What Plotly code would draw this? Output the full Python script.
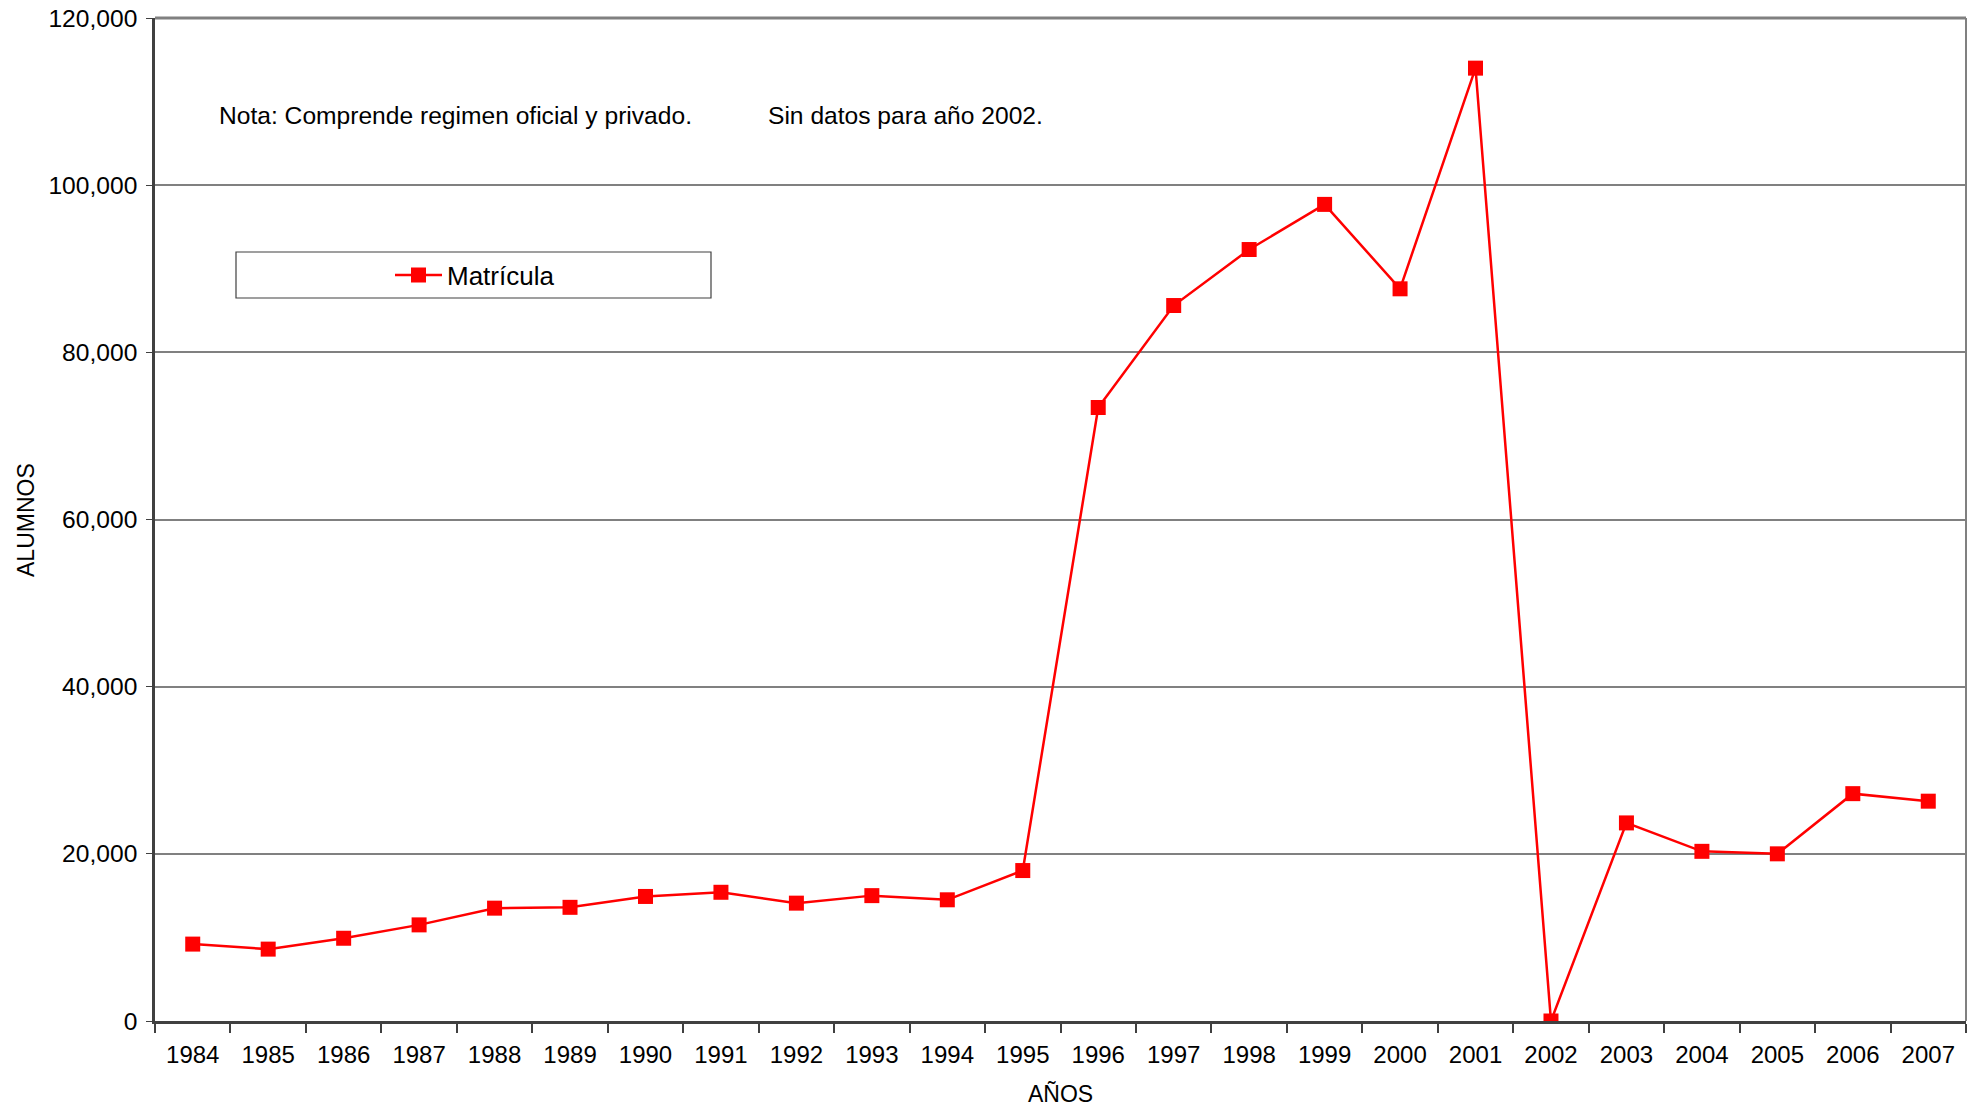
import plotly.graph_objects as go

years = [str(y) for y in range(1984, 2008)]
matricula = [9200, 8600, 9900, 11500, 13500, 13600, 14900, 15400, 14100, 15000,
             14500, 18000, 73400, 85600, 92300, 97700, 87600, 114000, 0, 23700,
             20300, 20000, 27200, 26300]
y_ticks = [0, 20000, 40000, 60000, 80000, 100000, 120000]
y_tick_labels = ["0", "20,000", "40,000", "60,000", "80,000", "100,000", "120,000"]

FONT = "Liberation Sans, Arial, sans-serif"

W, H = 1979, 1109
# plot area in page coordinates
X0, X1, Y0, Y1 = 155, 1966, 18, 1021
L, R, T, B = X0, W - X1, Y0, H - Y1
PW, PH = W - L - R, H - T - B


def px(x):
    return (x - X0) / PW


def py(y):
    return (Y1 - y) / PH


fig = go.Figure()
fig.add_trace(go.Scatter(
    x=years, y=matricula, mode="lines+markers", name="Matrícula",
    line=dict(color="#ff0000", width=2.5),
    marker=dict(symbol="square", size=15, color="#ff0000"),
))

fig.update_layout(
    width=W, height=H,
    margin=dict(l=L, r=R, t=T, b=B, autoexpand=False),
    paper_bgcolor="white", plot_bgcolor="white",
    font=dict(family=FONT, size=24.6, color="black"),
    showlegend=True,
    legend=dict(x=px(390), y=py(275),
                xanchor="left", yanchor="middle",
                bgcolor="rgba(0,0,0,0)", borderwidth=0,
                font=dict(size=26), itemwidth=47),
    xaxis=dict(
        type="category", showgrid=False, automargin=False,
        showline=True, linecolor="#404040", linewidth=2.5,
        ticks="outside", tickson="boundaries", ticklen=9, tickcolor="#404040", tickwidth=1.5,
        tickfont=dict(size=24), ticklabelstandoff=10, ticklabeloverflow="allow",
        range=[-0.5, len(years) - 0.5],
    ),
    yaxis=dict(
        range=[0, 120000], tickvals=y_ticks, ticktext=y_tick_labels,
        showgrid=True, gridcolor="#808080", gridwidth=1.5, automargin=False,
        showline=True, linecolor="#404040", linewidth=2.5,
        ticks="outside", ticklen=6, tickcolor="#404040",
        tickfont=dict(size=24.6), zeroline=False, ticklabelstandoff=4,
        ticklabeloverflow="allow",
    ),
    shapes=[
        dict(type="line", xref="paper", yref="paper", x0=0, x1=1, y0=1, y1=1,
             line=dict(color="#808080", width=3)),
        dict(type="line", xref="paper", yref="paper", x0=1, x1=1, y0=0, y1=1,
             line=dict(color="#808080", width=2)),
        dict(type="rect", xref="paper", yref="paper",
             x0=px(236), x1=px(711), y0=py(298), y1=py(252),
             line=dict(color="#404040", width=1.2), fillcolor="rgba(0,0,0,0)"),
    ],
    annotations=[
        dict(text="Nota: Comprende regimen oficial y privado.", xref="paper", yref="paper",
             x=px(217), y=py(115), xanchor="left", yanchor="middle",
             showarrow=False, font=dict(size=24.6)),
        dict(text="Sin datos para año 2002.", xref="paper", yref="paper",
             x=px(766), y=py(115), xanchor="left", yanchor="middle",
             showarrow=False, font=dict(size=24.6)),
        dict(text="ALUMNOS", xref="paper", yref="paper", x=px(26), y=py(520),
             xanchor="center", yanchor="middle", textangle=-90,
             showarrow=False, font=dict(size=23)),
        dict(text="AÑOS", xref="paper", yref="paper", x=px(1060), y=py(1094),
             xanchor="center", yanchor="middle",
             showarrow=False, font=dict(size=23)),
    ],
)

fig.write_html(
    "out.html",
    config={"displayModeBar": False},
    post_script="document.body.style.margin='0';document.body.style.overflow='hidden';",
)
